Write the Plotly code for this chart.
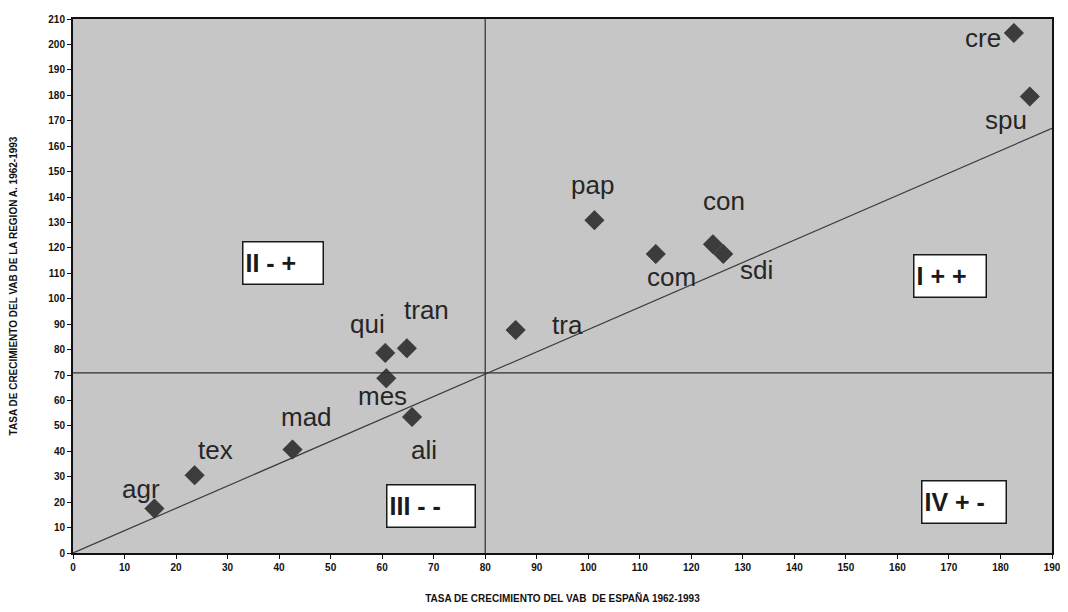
import plotly.graph_objects as go

# Sector data
sectors = ["agr", "tex", "mad", "qui", "tran", "mes", "ali", "tra",
           "pap", "com", "con", "sdi", "cre", "spu"]
spain_growth = [15.8, 23.6, 42.6, 60.6, 64.8, 60.8, 65.8, 85.9,
                101.2, 113.1, 124.2, 126.2, 182.6, 185.7]
region_growth = [17.5, 30.6, 40.7, 78.7, 80.5, 68.7, 53.5, 87.7,
                 130.9, 117.6, 121.4, 117.6, 204.5, 179.5]

# Reference lines
mean_spain = 80
mean_region = 70.8
trend_x = [0, 190]
trend_y = [0, 167]

# Quadrant labels
quadrant_text = ["II - +", "I + +", "III - -", "IV + -"]
quadrant_x = [40.8, 170.2, 69.5, 173.0]
quadrant_y = [114.0, 109.0, 18.4, 20.0]
quadrant_w = [83, 75, 91, 87]

# label offsets in pixels (dx, dy up)
label_dx = [-13, 21, 14, -18, 20, -4, 12, 52, -2, 16, 11, 33, -31, -24]
label_dy = [20, 25, 33, 29, 38, -18, -33, 5, 35, -23, 43, -16, -5, -23]

x_ticks = list(range(0, 191, 10))
y_ticks = list(range(0, 211, 10))

fig = go.Figure()

fig.add_trace(go.Scatter(
    x=trend_x, y=trend_y, mode="lines",
    line=dict(color="#3a3a3a", width=1.2), hoverinfo="skip", showlegend=False))

fig.add_trace(go.Scatter(
    x=spain_growth, y=region_growth, mode="markers",
    marker=dict(symbol="diamond", size=15, color="#3c3c3c",
                line=dict(color="#2a2a2a", width=0.5)),
    text=sectors, showlegend=False))

fig.add_shape(type="line", x0=mean_spain, x1=mean_spain, y0=0, y1=210,
              xref="x", yref="y", line=dict(color="#2e2e2e", width=1.2))
fig.add_shape(type="line", x0=0, x1=190, y0=mean_region, y1=mean_region,
              xref="x", yref="y", line=dict(color="#2e2e2e", width=1.2))

font_fam = "Liberation Sans, Arial, sans-serif"

for s, x, y, dx, dy in zip(sectors, spain_growth, region_growth, label_dx, label_dy):
    fig.add_annotation(x=x, y=y, text=s, showarrow=False, xshift=dx, yshift=dy,
                       font=dict(family=font_fam, size=26, color="#262626"))

for t, x, y, w in zip(quadrant_text, quadrant_x, quadrant_y, quadrant_w):
    fig.add_annotation(x=x, y=y, text="<b>" + t + "</b>", showarrow=False,
                       width=w - 8, height=37, align="left", valign="middle",
                       bgcolor="white", bordercolor="#1a1a1a", borderwidth=1.5,
                       borderpad=2,
                       font=dict(family=font_fam, size=25, color="#1a1a1a"))

tick_font = dict(family=font_fam, size=10, color="#111", weight="bold")

fig.update_xaxes(range=[0, 190], tickvals=x_ticks, ticks="outside", ticklen=4,
                 tickcolor="#111", showgrid=False, zeroline=False, automargin=False,
                 showline=True, linecolor="#111", linewidth=2, mirror=True,
                 tickfont=tick_font, ticklabeloverflow="allow",
                 title=dict(text="<b>TASA DE CRECIMIENTO DEL VAB  DE ESPAÑA 1962-1993</b>",
                            font=dict(family=font_fam, size=10, color="#111"),
                            standoff=26))
fig.update_yaxes(range=[0, 210], tickvals=y_ticks, ticks="outside", ticklen=4,
                 tickcolor="#111", showgrid=False, zeroline=False, automargin=False,
                 showline=True, linecolor="#111", linewidth=2, mirror=True,
                 tickfont=tick_font, ticklabeloverflow="allow",
                 title=dict(text="<b>TASA DE CRECIMIENTO DEL VAB DE LA REGION A. 1962-1993</b>",
                            font=dict(family=font_fam, size=10, color="#111"),
                            standoff=35))

fig.update_layout(
    width=1052, height=596,
    margin=dict(l=65, r=8, t=11, b=51),
    plot_bgcolor="#c6c6c6", paper_bgcolor="white",
    showlegend=False,
)

fig.write_html("out.html")
